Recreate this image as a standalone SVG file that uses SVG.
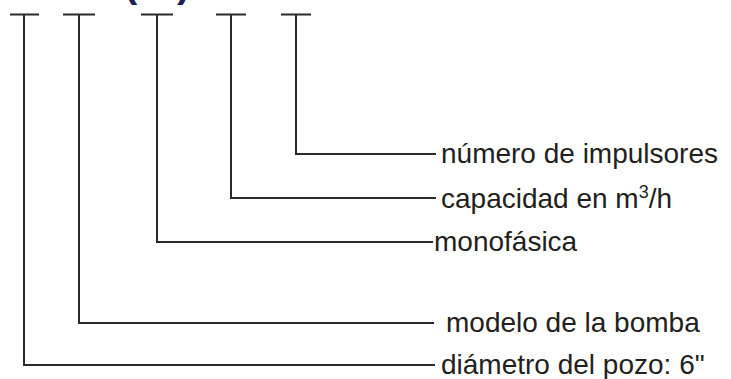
<svg xmlns="http://www.w3.org/2000/svg" width="731" height="379" viewBox="0 0 731 379">
<style>
.c{fill:none;stroke:#2a2a2a;stroke-width:2}
.t{font-family:"Liberation Sans",Arial,sans-serif;font-size:28px;fill:#231f20}
.p{font-family:"Liberation Sans",Arial,sans-serif;font-size:40px;font-weight:bold;fill:#1f1f55}
</style>
<rect width="731" height="379" fill="#fff"/>
<g id="title"><text class="p" x="124" y="-3.5">(</text><text class="p" x="177" y="-3.5">)</text></g>
<g id="connectors">
<path class="c" d="M10 14.5H39M24 14.5V365H435"/>
<path class="c" d="M63 14.5H95M79 14.5V323H434"/>
<path class="c" d="M141 14.5H173M157 14.5V242H433"/>
<path class="c" d="M216 14.5H246M231 14.5V198H436"/>
<path class="c" d="M281 14.5H311M296 14.5V154H436"/>
</g>
<g id="n5"><text class="t" x="441" y="163">número de impulsores</text></g>
<g id="n4"><text class="t" x="441" y="207.5">capacidad en m<tspan font-size="18" dy="-10">3</tspan><tspan dy="10">/h</tspan></text></g>
<g id="n3"><text class="t" x="434" y="251">monofásica</text></g>
<g id="n2"><text class="t" x="446" y="332">modelo de la bomba</text></g>
<g id="n1"><text class="t" x="441" y="374">diámetro del pozo: 6"</text></g>
</svg>
